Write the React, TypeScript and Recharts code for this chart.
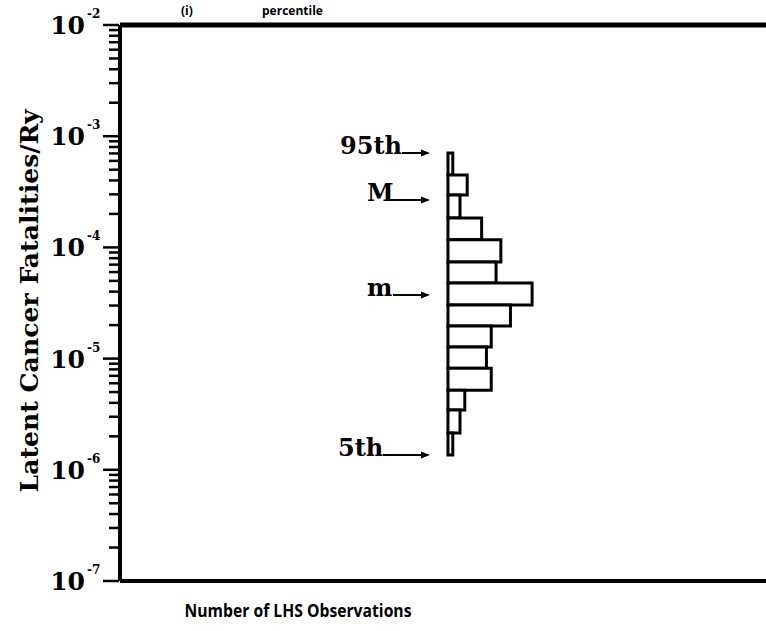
import React from "react"
import {
  ComposedChart,
  XAxis,
  YAxis,
  ReferenceArea,
  ReferenceLine,
  ReferenceDot,
} from "recharts"

// histogram bins on the log axis, top bin first
const binTop = [7.06e-4, 4.48e-4, 2.96e-4, 1.84e-4, 1.17e-4, 7.4e-5, 4.79e-5, 3.03e-5, 1.96e-5, 1.27e-5, 8.2e-6, 5.2e-6, 3.45e-6, 2.14e-6]
const binBottom = [4.48e-4, 2.96e-4, 1.84e-4, 1.17e-4, 7.4e-5, 4.79e-5, 3.03e-5, 1.96e-5, 1.27e-5, 8.2e-6, 5.2e-6, 3.45e-6, 2.14e-6, 1.36e-6]
const binCounts = [2, 8, 5, 14, 22, 20, 35, 26, 18, 16, 18, 7, 5, 2]

// percentile / mean / median markers
const markerLabels = ["95th", "M", "m", "5th"]
const markerValues = [7.06e-4, 2.67e-4, 3.73e-5, 1.36e-6]

// log axis ticks
const decadeExponents = [-7, -6, -5, -4, -3, -2]
const minorMultiples = [1, 2, 3, 4, 5, 6, 7, 8, 9]

const yTicks: number[] = []
decadeExponents.forEach((e, i) => {
  if (i === decadeExponents.length - 1) {
    yTicks.push(Math.pow(10, e))
    return
  }
  minorMultiples.forEach((m) => yTicks.push(m * Math.pow(10, e)))
})

const SERIF = "'DejaVu Serif', serif"
const SANS = "'Open Sans', sans-serif"

// text start and arrow start, px left of the histogram baseline
const markerOffsets: Record<string, { text: number; line: number }> = {
  "95th": { text: 108, line: 46 },
  M: { text: 81, line: 62 },
  m: { text: 81, line: 55 },
  "5th": { text: 110, line: 65 },
}

function LogTick(props: any) {
  const { x, y, payload } = props
  const v = payload.value
  const lg = Math.log10(v)
  const major = Math.abs(lg - Math.round(lg)) < 1e-6
  const ax = x - 1
  if (!major) {
    return <line x1={ax - 10} x2={ax} y1={y} y2={y} stroke="#000" strokeWidth={2.5} />
  }
  return (
    <g>
      <line x1={ax - 16} x2={ax} y1={y} y2={y} stroke="#000" strokeWidth={2.5} />
      <text x={ax - 34} y={y + 9} textAnchor="end" fontFamily={SERIF} fontWeight={700} fontSize={25} fill="#000">
        10
      </text>
      <text x={ax - 32} y={y - 7} textAnchor="start" fontFamily={SERIF} fontWeight={700} fontSize={12} fill="#000">
        {"-" + Math.abs(Math.round(lg))}
      </text>
    </g>
  )
}

function Marker(props: any) {
  const { cx, cy, label } = props
  const off = markerOffsets[label]
  const tip = cx - 18
  return (
    <g>
      <text x={cx - off.text} y={cy + 1} fontFamily={SERIF} fontWeight={700} fontSize={24} fill="#000">
        {label}
      </text>
      <line x1={cx - off.line} x2={tip - 6} y1={cy} y2={cy} stroke="#000" strokeWidth={2} />
      <path d={`M${tip - 9},${cy - 3.5} L${tip},${cy} L${tip - 9},${cy + 3.5} Z`} fill="#000" />
    </g>
  )
}

export default function App() {
  return (
    <div
      style={{
        position: "absolute",
        left: 0,
        top: 0,
        width: 766,
        height: 631,
        overflow: "hidden",
        background: "#fff",
      }}
    >
      <ComposedChart width={800} height={631} margin={{ top: 25, right: 0, bottom: 0, left: 0 }}>
        <XAxis
          type="number"
          dataKey="count"
          domain={[-136.5, 146.5]}
          allowDataOverflow
          height={50}
          tick={false}
          tickLine={false}
          axisLine={{ stroke: "#000", strokeWidth: 4 }}
          label={() => (
            <text
              x={298}
              y={617}
              textAnchor="middle"
              fontFamily={SANS}
              fontWeight={700}
              fontSize={18}
              textLength={227}
              lengthAdjust="spacingAndGlyphs"
              fill="#000"
            >
              Number of LHS Observations
            </text>
          )}
        />
        <YAxis
          type="number"
          scale="log"
          domain={[1e-7, 1e-2]}
          allowDataOverflow
          ticks={yTicks}
          interval={0}
          width={120}
          tickSize={0}
          tickMargin={0}
          tickLine={false}
          tick={<LogTick />}
          axisLine={{ stroke: "#000", strokeWidth: 4 }}
          label={() => (
            <g>
              <text
                x={38}
                y={301}
                transform="rotate(-90 38 301)"
                textAnchor="middle"
                fontFamily={SERIF}
                fontWeight={700}
                fontSize={25}
                textLength={383}
                lengthAdjust="spacingAndGlyphs"
                fill="#000"
              >
                Latent Cancer Fatalities/Ry
              </text>
              <text x={181} y={15} fontFamily={SANS} fontWeight={700} fontSize={12} fill="#000">
                (i)
              </text>
              <text x={262} y={15} fontFamily={SANS} fontWeight={700} fontSize={12} fill="#000">
                percentile
              </text>
            </g>
          )}
        />
        <ReferenceLine y={1e-2} stroke="#000" strokeWidth={5} ifOverflow="extendDomain" />
        {binCounts.map((c, i) => (
          <ReferenceArea
            key={i}
            x1={0}
            x2={c}
            y1={binBottom[i]}
            y2={binTop[i]}
            fill="#fff"
            fillOpacity={1}
            stroke="#000"
            strokeWidth={3}
          />
        ))}
        {markerLabels.map((lab, i) => (
          <ReferenceDot
            key={lab}
            x={0}
            y={markerValues[i]}
            r={0}
            shape={(p: any) => <Marker {...p} label={lab} />}
          />
        ))}
      </ComposedChart>
    </div>
  )
}
